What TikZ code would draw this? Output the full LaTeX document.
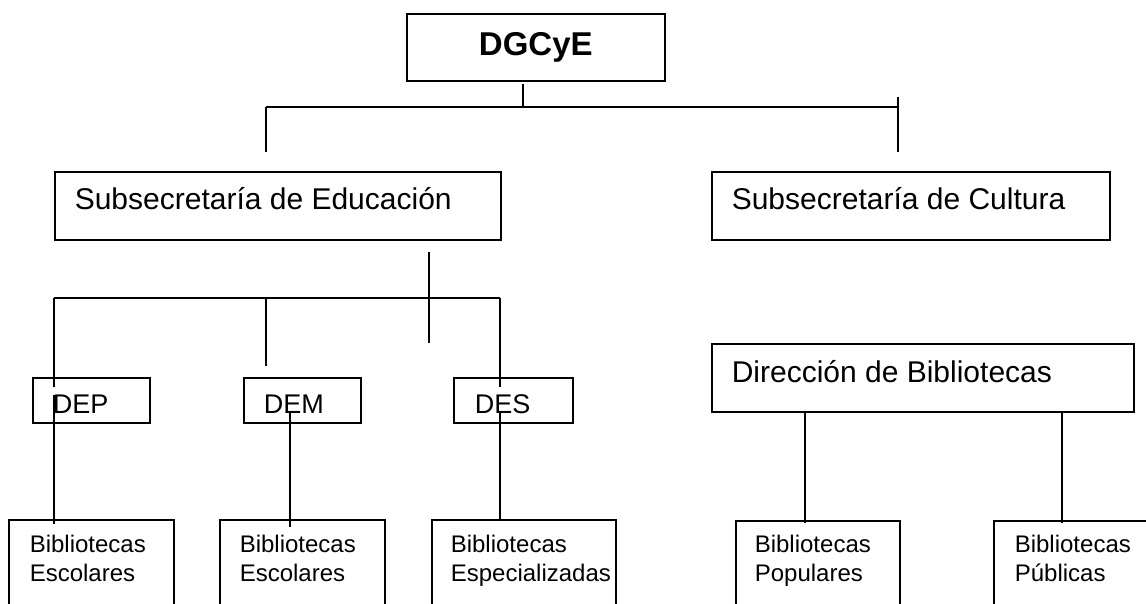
\documentclass[tikz,border=0pt]{standalone}
\usepackage{fontspec}
\setmainfont{Liberation Sans}
\newcommand\bxc[6]{\parbox[c][#2][t]{#1}{#5\leftskip=#3\relax\rightskip=0pt plus 1fil\relax\parfillskip=0pt\relax\hyphenpenalty=10000\relax\rule{0pt}{#4}#6}}
\newcommand\fbig{\fontsize{30}{36}\selectfont}
\newcommand\fmid{\fontsize{27}{32}\selectfont}
\newcommand\fsmall{\fontsize{24}{29}\selectfont}
\begin{document}
\begin{tikzpicture}[x=1pt,y=-1pt,
  box/.style={draw, anchor=north west, inner sep=0pt, line width=1.6pt},
  conn/.style={line width=1.6pt}]
\useasboundingbox (0,0) rectangle (1146,604);
\clip (0,0) rectangle (1146,604);
% boxes
\node[box] (dg) at (406,13) {\parbox[c][67pt][t]{258pt}{\centering\fontsize{33}{40}\selectfont\bfseries\rule{0pt}{42pt}DGCyE}};
\node[box] (edu) at (54,171) {\bxc{446pt}{68pt}{20pt}{38pt}{\fbig}{Subsecretaría de Educación}};
\node[box] (cult) at (711,171) {\bxc{398pt}{68pt}{20pt}{38pt}{\fbig}{Subsecretaría de Cultura}};
\node[box] (dir) at (711,343) {\bxc{422pt}{68pt}{20pt}{39pt}{\fbig}{Dirección de Bibliotecas}};
\node[box] (dep) at (32,377) {\bxc{117pt}{45pt}{20pt}{36pt}{\fmid}{DEP}};
\node[box] (dem) at (243,377) {\bxc{117pt}{45pt}{20pt}{36pt}{\fmid}{DEM}};
\node[box] (des) at (453,377) {\bxc{119pt}{45pt}{21pt}{36pt}{\fmid}{DES}};
\node[box] (b1) at (8,519) {\bxc{165pt}{120pt}{21pt}{33pt}{\fsmall}{Bibliotecas\\Escolares}};
\node[box] (b2) at (219,519) {\bxc{165pt}{120pt}{20pt}{33pt}{\fsmall}{Bibliotecas\\Escolares}};
\node[box] (b3) at (431,519) {\bxc{184pt}{120pt}{19pt}{33pt}{\fsmall}{Bibliotecas\\Especializadas}};
\node[box] (b4) at (735,520) {\bxc{164pt}{120pt}{19pt}{32pt}{\fsmall}{Bibliotecas\\Populares}};
\node[box] (b5) at (993,520) {\bxc{200pt}{120pt}{21pt}{32pt}{\fsmall}{Bibliotecas\\Públicas}};
% junction coordinates
\coordinate (dgs) at (523,84);
\coordinate (j1) at (523,107);
\coordinate (jl) at (266,107);
\coordinate (jr) at (898,107);
\coordinate (jrt) at (898,97);
\coordinate (edut) at (266,152);
\coordinate (cultt) at (898,152);
\coordinate (edus) at (429,252);
\coordinate (edub) at (429,343);
\coordinate (h1) at (54,298);
\coordinate (h2) at (266,298);
\coordinate (h3) at (500,298);
\coordinate (dept) at (54,387);
\coordinate (demt) at (266,366);
\coordinate (dest) at (500,387);
\coordinate (depb) at (54,395);
\coordinate (b1t) at (54,524);
\coordinate (demb) at (290,412);
\coordinate (b2t) at (290,527);
\coordinate (desb) at (500,411);
\coordinate (b3t) at (500,520);
\coordinate (dirl) at (805,411);
\coordinate (b4t) at (805,523);
\coordinate (dirr) at (1062,411);
\coordinate (b5t) at (1062,523);
% connectors
\draw[conn] (dgs) -- (j1);
\draw[conn] (jl) -- (jr);
\draw[conn] (jl) -- (edut);
\draw[conn] (jrt) -- (cultt);
\draw[conn] (edus) -- (edub);
\draw[conn] (h1) -- (h3);
\draw[conn] (h1) -- (dept);
\draw[conn] (h2) -- (demt);
\draw[conn] (h3) -- (dest);
\draw[conn] (depb) -- (b1t);
\draw[conn] (demb) -- (b2t);
\draw[conn] (desb) -- (b3t);
\draw[conn] (dirl) -- (b4t);
\draw[conn] (dirr) -- (b5t);
\end{tikzpicture}
\end{document}
